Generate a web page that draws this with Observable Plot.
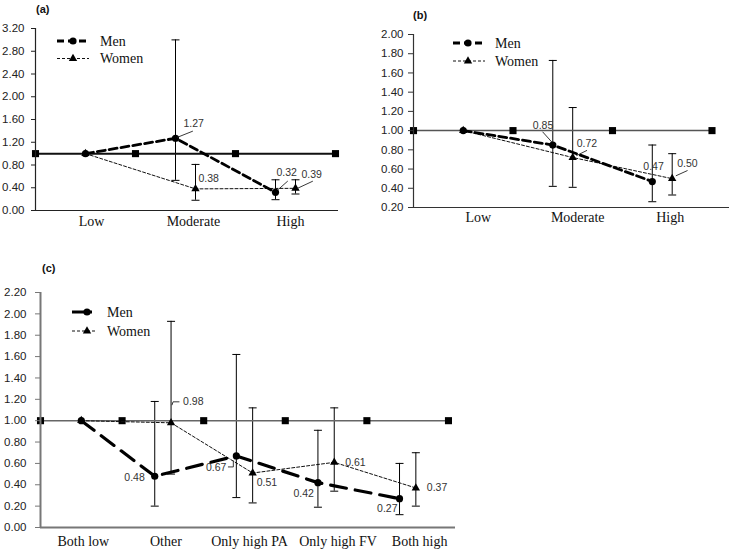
<!DOCTYPE html>
<html>
<head>
<meta charset="utf-8">
<script src="https://cdn.jsdelivr.net/npm/d3@7"></script>
<script src="https://cdn.jsdelivr.net/npm/@observablehq/plot@0.6"></script>
<style>
  body { margin: 0; background: #fff; }
  #chart { position: relative; width: 734px; height: 551px; background: #fff; }
  .panel { position: absolute; }
  #overlay { position: absolute; left: 0; top: 0; pointer-events: none; }
</style>
</head>
<body>
<div id="chart"></div>
<script>
// categories
const levels = ['Low', 'Moderate', 'High'];
const combos = ['Both low', 'Other', 'Only high PA', 'Only high FV', 'Both high'];

// (a)
const aMen = [1.00, 1.27, 0.32];
const aMenLo = [null, 0.53, 0.19];
const aMenHi = [null, 3.00, 0.54];
const aWomen = [1.00, 0.38, 0.39];
const aWomenLo = [null, 0.18, 0.29];
const aWomenHi = [null, 0.81, 0.54];
const aTicks = [0, 0.4, 0.8, 1.2, 1.6, 2.0, 2.4, 2.8, 3.2];

// (b)
const bMen = [1.00, 0.85, 0.47];
const bMenLo = [null, 0.42, 0.26];
const bMenHi = [null, 1.73, 0.85];
const bWomen = [1.00, 0.72, 0.50];
const bWomenLo = [null, 0.41, 0.33];
const bWomenHi = [null, 1.24, 0.76];
const bTicks = [0.2, 0.4, 0.6, 0.8, 1.0, 1.2, 1.4, 1.6, 1.8, 2.0];

// (c)
const cMen = [1.00, 0.48, 0.67, 0.42, 0.27];
const cMenLo = [null, 0.20, 0.28, 0.19, 0.12];
const cMenHi = [null, 1.18, 1.62, 0.91, 0.60];
const cWomen = [1.00, 0.98, 0.51, 0.61, 0.37];
const cWomenLo = [null, 0.50, 0.23, 0.34, 0.20];
const cWomenHi = [null, 1.93, 1.12, 1.12, 0.70];
const cTicks = [0, 0.2, 0.4, 0.6, 0.8, 1.0, 1.2, 1.4, 1.6, 1.8, 2.0, 2.2];

const refValue = 1;

const sans = '"Liberation Sans", Arial, sans-serif';
const serif = '"Liberation Serif", "Times New Roman", serif';

// horizontal cap for the error bars
const cap = {draw(ctx, size) { const w = Math.sqrt(size / Math.PI); ctx.moveTo(-w, 0); ctx.lineTo(w, 0); }};

function drawPanel(p) {
  const n = p.cats.length;
  const rows = [];
  p.cats.forEach((c, i) => {
    rows.push({sex: 'Men', i, pos: i === 0 ? 0 : i - 0.1, v: p.men[i], lo: p.menLo[i], hi: p.menHi[i]});
    rows.push({sex: 'Women', i, pos: i === 0 ? 0 : i + 0.1, v: p.women[i], lo: p.womenLo[i], hi: p.womenHi[i]});
  });
  const men = rows.filter(d => d.sex === 'Men');
  const women = rows.filter(d => d.sex === 'Women');
  const bars = rows.filter(d => d.lo != null);
  const ref = d3.range(n + 1).map(k => ({pos: k - 0.5, v: refValue}));
  const g = p.box;
  const kx = (g.width - g.ml - g.mr) / (p.xDomain[1] - p.xDomain[0]);
  const ky = (g.height - g.mt - g.mb) / (p.yDomain[1] - p.yDomain[0]);

  const notes = p.notes.flatMap(nt => {
    const d = rows.find(r => r.sex === nt.s && r.i === nt.i);
    const out = [Plot.text([d], {x: 'pos', y: 'v', text: r => r.v.toFixed(2), dx: nt.dx, dy: nt.dy,
      textAnchor: nt.anchor || 'start', fontSize: 10.5, fill: '#333', fontFamily: sans})];
    if (nt.leader) {
      const pts = nt.leader.map(([ox, oy]) => ({x: d.pos + ox / kx, y: d.v - oy / ky}));
      out.push(Plot.line(pts, {x: 'x', y: 'y', stroke: '#222', strokeWidth: 0.9}));
    }
    return out;
  });

  // one axis mark per category so each label can be nudged like the original
  const xLabels = d3.range(n).map(i => Plot.axisX({ticks: [i], tickFormat: () => p.cats[i], tickSize: 0,
    tickPadding: p.xPad, dx: p.xShift[i], fontSize: 14, fontFamily: serif, label: null, fill: '#111'}));

  const chart = Plot.plot({
    width: g.width, height: g.height,
    marginLeft: g.ml, marginRight: g.mr, marginTop: g.mt, marginBottom: g.mb,
    x: {domain: p.xDomain, axis: null},
    y: {domain: p.yDomain, axis: null},
    style: {fontFamily: sans, color: p.axisColor, background: 'transparent', overflow: 'visible'},
    marks: [
      Plot.ruleX(bars, {x: 'pos', y1: 'lo', y2: 'hi', stroke: '#000', strokeWidth: 1}),
      Plot.dot(bars, {x: 'pos', y: 'lo', symbol: cap, r: 4, fill: 'none', stroke: '#000', strokeWidth: 1}),
      Plot.dot(bars, {x: 'pos', y: 'hi', symbol: cap, r: 4, fill: 'none', stroke: '#000', strokeWidth: 1}),
      Plot.line(ref, {x: 'pos', y: 'v', stroke: p.refColor, strokeWidth: p.refWidth}),
      Plot.dot(ref, {x: 'pos', y: 'v', symbol: 'square', r: 4, fill: '#000'}),
      Plot.line(women, {x: 'pos', y: 'v', stroke: '#111', strokeWidth: 1, strokeDasharray: '3,2'}),
      Plot.line(men, {x: 'pos', y: 'v', stroke: '#000', strokeWidth: p.menWidth, strokeDasharray: p.menDash}),
      Plot.dot(women, {x: 'pos', y: 'v', symbol: 'triangle', r: 3.1, fill: '#000'}),
      Plot.dot(men, {x: 'pos', y: 'v', symbol: 'circle', r: 3.6, fill: '#000'}),
      ...notes,
      Plot.ruleX([p.xDomain[0]], {stroke: p.axisColor, strokeWidth: p.axisWidth}),
      Plot.ruleY([p.yDomain[0]], {stroke: p.axisColor, strokeWidth: p.axisWidth}),
      Plot.axisY({ticks: p.ticks, tickFormat: d => d.toFixed(2), tickSize: p.ySize, tickPadding: p.yPad,
        fontSize: 11.5, fontFamily: sans, label: null, fill: '#222'}),
      ...xLabels
    ]
  });
  const div = d3.select('#chart').append('div').attr('class', 'panel')
    .style('left', g.left + 'px').style('top', g.top + 'px');
  div.append(() => chart);
}

drawPanel({
  cats: levels, men: aMen, menLo: aMenLo, menHi: aMenHi, women: aWomen, womenLo: aWomenLo, womenHi: aWomenHi,
  ticks: aTicks, yDomain: [0, 3.2], xDomain: [-0.5, 2.53],
  box: {left: 0, top: 0, width: 345, height: 235, ml: 35, mr: 7, mt: 28, mb: 25},
  axisColor: '#222', axisWidth: 1.2, refColor: '#111', refWidth: 2,
  menWidth: 2.8, menDash: '8,4', ySize: 4, yPad: 7, xPad: 6, xShift: [6, 8, 5],
  notes: [
    {s: 'Men', i: 1, dx: 8, dy: -15, leader: [[2, -1], [17, -7]]},
    {s: 'Women', i: 1, dx: 3, dy: -10},
    {s: 'Men', i: 2, dx: 1, dy: -20, leader: [[3, -3], [12, -11]]},
    {s: 'Women', i: 2, dx: 6, dy: -14, leader: [[2, 0], [17, -7]]}
  ]
});

drawPanel({
  cats: levels, men: bMen, menLo: bMenLo, menHi: bMenHi, women: bWomen, womenLo: bWomenLo, womenHi: bWomenHi,
  ticks: bTicks, yDomain: [0.2, 2.0], xDomain: [-0.5, 2.676],
  box: {left: 372, top: 0, width: 362, height: 232, ml: 41, mr: 5, mt: 34, mb: 25},
  axisColor: '#333', axisWidth: 1.2, refColor: '#555', refWidth: 1.5,
  menWidth: 2.8, menDash: '8,4', ySize: 5, yPad: 5, xPad: 5, xShift: [15, 15, 8],
  notes: [
    {s: 'Men', i: 1, dx: -20, dy: -19, leader: [[-10, -13], [-1, -3]]},
    {s: 'Women', i: 1, dx: 4, dy: -14, leader: [[4, -2], [14, -7]]},
    {s: 'Men', i: 2, dx: -9, dy: -15},
    {s: 'Women', i: 2, dx: 5, dy: -15, leader: [[4, -3], [15, -8]]}
  ]
});

drawPanel({
  cats: combos, men: cMen, menLo: cMenLo, menHi: cMenHi, women: cWomen, womenLo: cWomenLo, womenHi: cWomenHi,
  ticks: cTicks, yDomain: [0, 2.2], xDomain: [-0.5, 4.586],
  box: {left: 0, top: 250, width: 470, height: 301, ml: 40, mr: 15, mt: 42, mb: 24},
  axisColor: '#777', axisWidth: 2, refColor: '#666', refWidth: 1.5,
  menWidth: 3.2, menDash: '16,9', ySize: 5, yPad: 9, xPad: 9, xShift: [2, 3, 5, 12, 12],
  notes: [
    {s: 'Women', i: 1, dx: 12, dy: -21, leader: [[1, -18], [2, -21], [8, -21]]},
    {s: 'Men', i: 1, dx: -10, dy: 1, anchor: 'end'},
    {s: 'Men', i: 2, dx: -10, dy: 12, anchor: 'end', leader: [[-8, 11], [-3, 11], [-3, 5]]},
    {s: 'Women', i: 2, dx: 4, dy: 10},
    {s: 'Men', i: 3, dx: -4, dy: 11, anchor: 'end'},
    {s: 'Women', i: 3, dx: 11, dy: 0},
    {s: 'Men', i: 4, dx: -2, dy: 10, anchor: 'end'},
    {s: 'Women', i: 4, dx: 11, dy: 0}
  ]
});

// panel tags and legends
const ov = d3.select('#chart').append('svg').attr('id', 'overlay').attr('width', 734).attr('height', 551);

[['(a)', 36, 9], ['(b)', 413, 15], ['(c)', 42, 268]].forEach(([t, x, y]) => {
  ov.append('text').attr('x', x).attr('y', y).attr('dominant-baseline', 'central')
    .attr('font-family', sans).attr('font-size', 11).attr('font-weight', 'bold').attr('fill', '#111').text(t);
});

function legend(x1, x2, mx, y, gap, tx, menDash, menWidth, womenX2) {
  const menY = y, womenY = y + gap;
  ov.append('line').attr('x1', x1).attr('x2', x2).attr('y1', menY).attr('y2', menY)
    .attr('stroke', '#000').attr('stroke-width', menWidth).attr('stroke-dasharray', menDash);
  ov.append('circle').attr('cx', mx).attr('cy', menY).attr('r', 3.6).attr('fill', '#000');
  ov.append('line').attr('x1', x1).attr('x2', womenX2).attr('y1', womenY).attr('y2', womenY)
    .attr('stroke', '#111').attr('stroke-width', 1).attr('stroke-dasharray', '3,2');
  ov.append('path').attr('d', d3.symbol(d3.symbolTriangle, Math.PI * 3.1 * 3.1)())
    .attr('transform', `translate(${mx},${womenY})`).attr('fill', '#000');
  [['Men', menY], ['Women', womenY]].forEach(([t, yy]) => {
    ov.append('text').attr('x', tx).attr('y', yy).attr('dominant-baseline', 'central')
      .attr('font-family', serif).attr('font-size', 14).attr('fill', '#111').text(t);
  });
}
legend(57, 89, 73, 41, 17.5, 100, '7,4', 2.8, 89);
legend(453, 485, 468, 43, 18, 495, '7,4', 2.8, 485);
legend(72, 92, 87, 312, 19, 107, null, 3, 97);
</script>
</body>
</html>
